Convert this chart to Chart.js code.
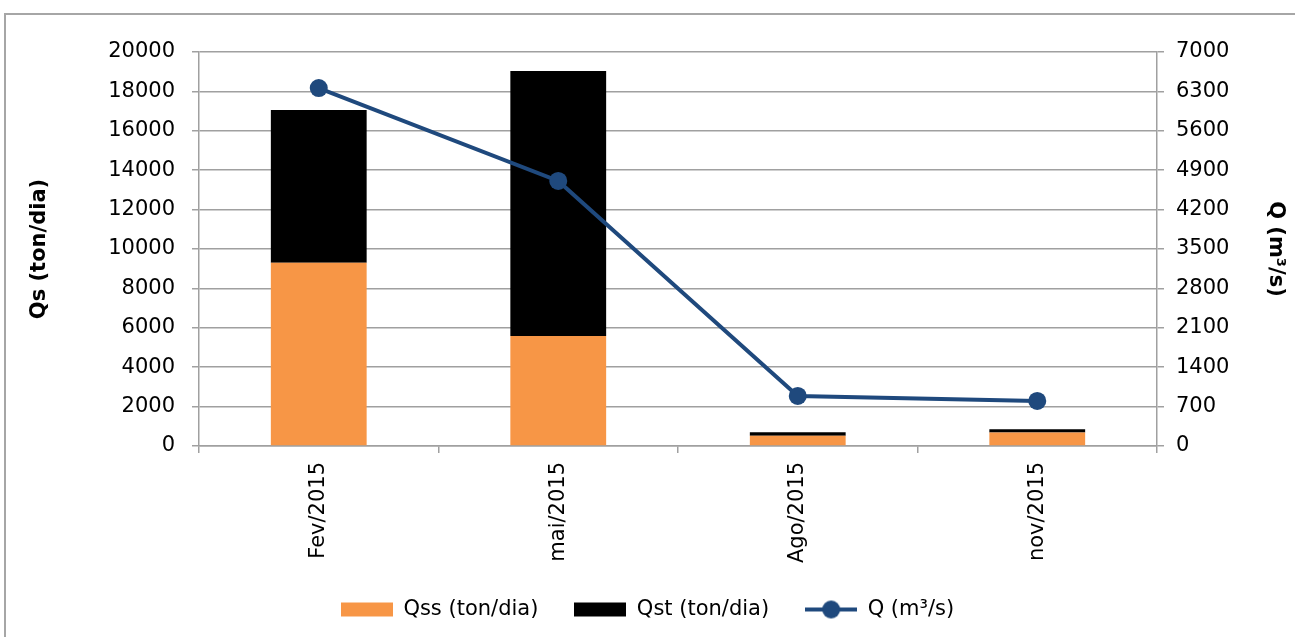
<!DOCTYPE html>
<html>
<head>
<meta charset="utf-8">
<script src="https://cdn.jsdelivr.net/npm/chart.js@4"></script>
<style>
  body { margin: 0; background: #fff; overflow: hidden; }
  #frame { position: absolute; left: 4px; top: 13px; width: 1400px; height: 700px; border: 2px solid #a6a6a6; }
  #qsChart { position: absolute; left: 0; top: 0; }
</style>
</head>
<body>
<div id="frame"></div>
<canvas id="qsChart" width="1295" height="637"></canvas>
<script>
// Chart data
const categories = ['Fev/2015', 'mai/2015', 'Ago/2015', 'nov/2015'];
const qssValues = [9300, 5580, 520, 680];     // Qss (ton/dia)
const qstValues = [7750, 13450, 180, 170];    // Qst (ton/dia)
const qValues = [6360, 4710, 890, 800];       // Q (m³/s)

const ORANGE = '#f79646';
const BLACK = '#000000';
const BLUE = '#1f497d';
const GRID = '#a0a0a0';

// small canvas swatches for the legend (box or line-with-marker)
function legendSwatch(color, isLine) {
  const c = document.createElement('canvas');
  c.width = 52;
  c.height = 20;
  const g = c.getContext('2d');
  g.fillStyle = color;
  if (isLine) {
    g.strokeStyle = color;
    g.lineWidth = 4;
    g.beginPath();
    g.moveTo(0, 10);
    g.lineTo(52, 10);
    g.stroke();
    g.beginPath();
    g.arc(26, 10, 9, 0, Math.PI * 2);
    g.fill();
  } else {
    g.fillRect(0, 3, 52, 14);
  }
  return c;
}

document.addEventListener("DOMContentLoaded", function () {
  const ctx = document.getElementById("qsChart");

  Chart.defaults.font.family = "'DejaVu Sans', sans-serif";
  Chart.defaults.color = '#000';

  new Chart(ctx, {
    type: 'bar',
    data: {
      labels: categories,
      datasets: [
        {
          label: 'Qss (ton/dia)',
          data: qssValues,
          backgroundColor: ORANGE,
          yAxisID: 'y',
          order: 1,
          barPercentage: 0.4,
          categoryPercentage: 1
        },
        {
          label: 'Qst (ton/dia)',
          data: qstValues,
          backgroundColor: BLACK,
          yAxisID: 'y',
          order: 1,
          barPercentage: 0.4,
          categoryPercentage: 1
        },
        {
          type: 'line',
          label: 'Q (m³/s)',
          data: qValues,
          borderColor: BLUE,
          backgroundColor: BLUE,
          borderWidth: 4,
          pointRadius: 9,
          pointBorderWidth: 0,
          pointBackgroundColor: BLUE,
          tension: 0,
          yAxisID: 'y1',
          order: 0
        }
      ]
    },
    options: {
      responsive: false,
      animation: false,
      layout: { padding: { top: 52, left: 0, right: 0, bottom: 7 } },
      plugins: {
        tooltip: { enabled: false },
        legend: {
          position: 'bottom',
          labels: {
            usePointStyle: true,
            pointStyleWidth: 52,
            padding: 36,
            font: { size: 21 },
            color: '#000',
            sort: function (a, b) { return a.datasetIndex - b.datasetIndex; },
            generateLabels: function (chart) {
              const items = Chart.defaults.plugins.legend.labels.generateLabels(chart);
              items.forEach(function (item) {
                const ds = chart.data.datasets[item.datasetIndex];
                item.pointStyle = legendSwatch(ds.type === 'line' ? BLUE : ds.backgroundColor, ds.type === 'line');
              });
              return items;
            }
          }
        }
      },
      scales: {
        x: {
          stacked: true,
          grid: { offset: true, drawOnChartArea: false, tickLength: 7, color: GRID, lineWidth: 1.5 },
          border: { color: GRID, width: 1.5 },
          ticks: { minRotation: 90, maxRotation: 90, padding: 9, font: { size: 21 }, color: '#000' },
          afterFit: function (scale) { scale.height = 117; }
        },
        y: {
          stacked: true,
          position: 'left',
          min: 0,
          max: 20000,
          ticks: {
            stepSize: 2000,
            padding: 17,
            font: { size: 21 },
            color: '#000',
            callback: function (v) { return String(v); }
          },
          grid: { color: GRID, lineWidth: 1.5, tickLength: 7 },
          border: { color: GRID, width: 1.5 },
          title: {
            display: true,
            text: 'Qs (ton/dia)',
            font: { size: 21, weight: 'bold' },
            color: '#000',
            padding: { top: 27, bottom: 4 }
          },
          afterFit: function (scale) { scale.width = 199; }
        },
        y1: {
          position: 'right',
          min: 0,
          max: 7000,
          ticks: {
            stepSize: 700,
            padding: 12,
            font: { size: 21 },
            color: '#000',
            callback: function (v) { return String(v); }
          },
          grid: { drawOnChartArea: false, color: GRID, lineWidth: 1.5, tickLength: 7 },
          border: { color: GRID, width: 1.5 },
          title: {
            display: true,
            text: 'Q (m³/s)',
            font: { size: 21, weight: 'bold' },
            color: '#000',
            padding: { top: 7, bottom: 4 }
          },
          afterFit: function (scale) { scale.width = 138; }
        }
      }
    }
  });
});
</script>
</body>
</html>
